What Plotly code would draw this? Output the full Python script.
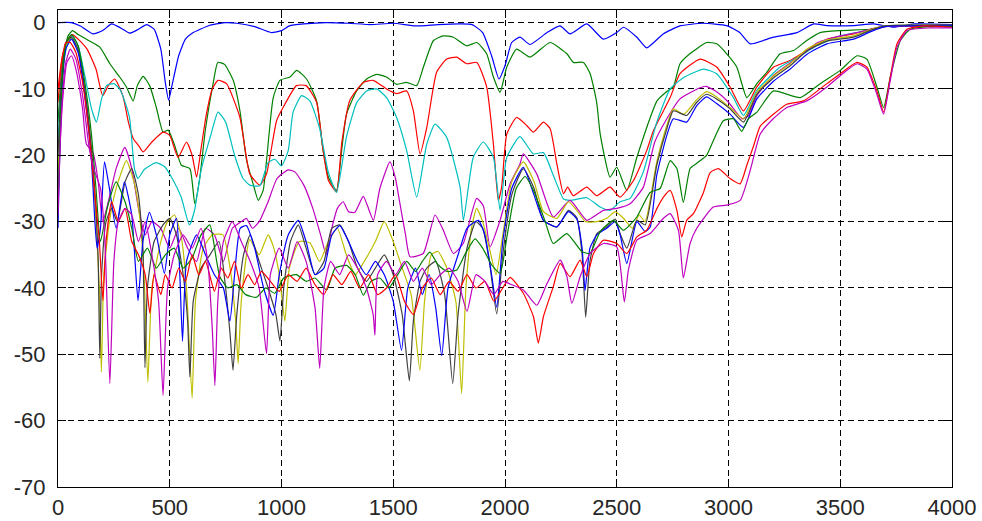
import plotly.graph_objects as go

# Frequency response magnitudes (Hz, dB) for each channel
blue_top = [(0,0),(60,0),(100,-0.5),(156,-1.7),(200,-1.2),(240,-0.2),(280,-0.8),(321,-1.6),(360,-1.0),(397,-0.3),(430,-1.0),(460,-4),(480,-9),(495,-11.7),(510,-9.5),(540,-5),(570,-2.5),(600,-1.6),(680,-0.4),(750,0),(800,-0.1),(880,-0.6),(955,-1.5),(1000,-1.2),(1035,-0.5),(1100,-0.2),(1200,0),(1300,-0.1),(1400,-0.3),(1500,-0.1),(1600,-0.5),(1700,-0.3),(1800,-0.2),(1853,-0.3),(1900,-1.5),(1940,-5),(1973,-8.5),(2000,-6.5),(2030,-3),(2067,-2.2),(2112,-3.3),(2188,-1.5),(2246,-0.5),(2291,-1.7),(2366,-0.2),(2440,-2.5),(2500,-1.5),(2530,-0.7),(2590,-2.2),(2634,-3.8),(2708,-1.7),(2783,-0.5),(2886,-0.1),(2992,-0.45),(3050,-1.5),(3097,-3.2),(3201,-2.2),(3306,-1.5),(3381,-0.2),(3440,-0.45),(3560,-0.45),(3650,-0.2),(3740,-0.7),(3830,-0.2),(4000,-0.3)]

green_upper = [(0,-15),(20,-6),(45,-2),(65,-1.2),(90,-1.8),(127,-2.5),(187,-3.7),(232,-6.2),(276,-8.2),(306,-9.7),(336,-11.8),(355,-9.5),(381,-8.1),(410,-9.5),(440,-12.8),(470,-16.5),(493,-16.2),(522,-18.5),(552,-21.5),(590,-22),(612,-27.3),(634,-23.5),(660,-16),(694,-9.2),(715,-6),(745,-6.3),(784,-8.7),(814,-13.3),(844,-20.8),(873,-24.3),(896,-26.8),(918,-25.3),(933,-20.8),(963,-11.3),(993,-8.7),(1038,-8.2),(1068,-7.2),(1112,-8.5),(1157,-11.8),(1185,-19),(1210,-23.3),(1246,-25.3),(1270,-19),(1291,-13.8),(1336,-10.3),(1381,-8.5),(1426,-7.8),(1470,-8.2),(1515,-9.3),(1560,-9),(1605,-9.5),(1635,-6.7),(1680,-2.7),(1724,-2),(1769,-2.2),(1829,-3.5),(1874,-3),(1918,-4.7),(1948,-8.2),(1978,-10.5),(2008,-6.7),(2052,-4),(2112,-5.2),(2202,-3),(2277,-4.7),(2306,-6),(2351,-6),(2381,-7.7),(2410,-12),(2426,-16.8),(2470,-23.3),(2500,-21.8),(2545,-25.3),(2590,-20.3),(2650,-14.3),(2680,-11.8),(2720,-10.5),(2753,-9.7),(2783,-6.2),(2827,-4.7),(2902,-3),(2947,-3.2),(2992,-4.7),(3037,-6.7),(3082,-11.3),(3127,-9.2),(3171,-7.5),(3231,-4.7),(3291,-4.2),(3350,-2.7),(3410,-1.5),(3500,-1.2),(3634,-1),(3700,-0.6),(4000,-0.5)]

red_upper = [(0,-12),(20,-5),(45,-2.5),(65,-1.8),(90,-2.5),(130,-4),(170,-7),(200,-11),(225,-9.5),(254,-8.5),(290,-11),(315,-15),(337,-17.5),(360,-18.5),(381,-19.5),(420,-18),(470,-16.5),(500,-17),(537,-20.3),(575,-18),(600,-20),(620,-23.3),(640,-19),(664,-13.8),(690,-10),(716,-8.7),(754,-9.2),(814,-14.3),(858,-22.8),(903,-24.5),(933,-22.8),(978,-14.8),(1007,-12.8),(1067,-9.5),(1110,-9.5),(1157,-12),(1185,-19),(1210,-23.8),(1246,-25.5),(1270,-18),(1306,-11.7),(1367,-9),(1410,-8.7),(1470,-10),(1515,-10.7),(1560,-10.3),(1590,-13.3),(1620,-19.8),(1650,-15.8),(1694,-7.5),(1739,-5.5),(1784,-5.2),(1829,-6.2),(1874,-6),(1918,-9.7),(1948,-18.3),(1970,-26.8),(1985,-24.8),(2008,-16.8),(2052,-14.3),(2097,-15.5),(2127,-16.5),(2172,-15),(2202,-16),(2232,-21.3),(2262,-25.8),(2280,-24.8),(2306,-26.1),(2366,-24.8),(2410,-26.1),(2470,-24.8),(2515,-26.3),(2575,-23.8),(2634,-19.3),(2664,-16.3),(2739,-11.3),(2783,-7.7),(2873,-5.5),(2947,-6.7),(3007,-9.7),(3067,-13.3),(3127,-9.7),(3202,-6.7),(3276,-5.7),(3350,-4.2),(3440,-2.5),(3560,-1.7),(3634,-1),(3700,-0.5),(4000,-0.5)]

cyan_upper = [(0,-18),(20,-7),(45,-2.8),(65,-2),(90,-3.5),(120,-8),(150,-13),(172,-15),(195,-11.5),(217,-9.5),(250,-9.2),(276,-10),(300,-12),(321,-14.5),(342,-22),(358,-23.5),(387,-22.1),(439,-21.1),(476,-21.7),(513,-23.6),(551,-26.3),(588,-30.5),(611,-28.3),(640,-22.3),(685,-16.8),(716,-13.5),(750,-15),(790,-20),(828,-23.5),(858,-24.5),(903,-24.6),(940,-21.1),(970,-20.6),(1000,-21.6),(1030,-19.3),(1052,-13.5),(1090,-11),(1127,-11.8),(1171,-16),(1209,-22.5),(1246,-25.6),(1291,-17.2),(1336,-12.1),(1381,-10.3),(1426,-10),(1470,-11.3),(1515,-14.3),(1560,-19.3),(1605,-26.3),(1650,-18.3),(1687,-15.3),(1739,-17.3),(1799,-24.8),(1814,-29.8),(1858,-20.3),(1903,-18),(1948,-20.3),(1978,-28.3),(2008,-20.3),(2067,-17.2),(2127,-19.8),(2172,-19.6),(2216,-23),(2262,-26.6),(2291,-26.8),(2366,-26.4),(2426,-27.8),(2470,-28.3),(2515,-27),(2560,-26.5),(2619,-22.5),(2679,-15),(2739,-10),(2798,-8.3),(2888,-7),(2947,-7.7),(3022,-11.3),(3067,-14),(3127,-10.2),(3231,-6.7),(3321,-5),(3395,-3.5),(3500,-2),(3619,-1.2),(3700,-0.5),(4000,-0.5)]

magenta_mid = [(0,-25),(20,-12),(40,-6),(60,-5),(80,-7),(110,-13),(127,-18.3),(157,-19.6),(180,-24),(200,-30),(225,-27),(260,-22),(299,-18.8),(330,-22),(360,-28),(390,-32),(420,-30),(460,-31),(500,-34),(540,-31),(580,-34),(620,-36),(660,-31),(700,-32),(740,-36),(780,-31),(820,-30),(843,-29.5),(870,-31),(900,-30),(940,-27),(980,-23.5),(1030,-22.2),(1060,-22.5),(1100,-24.5),(1140,-28),(1175,-32),(1200,-35),(1225,-31),(1250,-28),(1276,-27),(1300,-28.5),(1328,-28.6),(1366,-26.2),(1411,-29.8),(1440,-25),(1485,-21),(1510,-23.5),(1530,-27.3),(1555,-32),(1575,-35.3),(1634,-34.8),(1687,-29),(1724,-31.3),(1769,-34.8),(1813,-33.3),(1873,-26.5),(1903,-27.6),(1933,-33.8),(1978,-29.8),(2023,-24.3),(2067,-21.3),(2082,-19.8),(2142,-22.8),(2216,-29.3),(2291,-26.8),(2366,-29.8),(2440,-28.3),(2500,-28),(2560,-27.3),(2619,-24.8),(2670,-18),(2724,-14.5),(2783,-11.5),(2860,-10),(2900,-9.6),(2950,-10.5),(3000,-12),(3060,-14.5),(3090,-14),(3127,-11),(3200,-8),(3300,-5.5),(3400,-3),(3500,-2),(3620,-1.2),(3700,-0.6),(4000,-0.6)]

yellow_low = [(0,-24),(15,-10),(35,-3.5),(60,-2.3),(90,-4.2),(120,-10.5),(150,-20),(170,-30),(185,-40),(194,-52.7),(205,-38),(230,-30),(260,-25),(306,-20.8),(340,-24),(364,-28.8),(385,-38),(402,-54.2),(420,-40),(460,-33),(490,-30),(521,-29),(550,-32),(575,-40),(600,-56.6),(615,-42),(650,-34),(690,-32),(738,-32),(770,-37),(795,-45),(806,-51.4),(820,-42),(858,-32.7),(900,-35),(940,-32),(963,-33.7),(990,-38),(1015,-45),(1035,-37),(1080,-33),(1127,-33.2),(1170,-36),(1210,-33),(1250,-31),(1290,-35),(1330,-38),(1370,-36),(1420,-33),(1460,-30),(1500,-33),(1540,-37),(1580,-41),(1619,-52.4),(1640,-42),(1670,-35),(1700,-34.5),(1740,-37),(1780,-42),(1806,-55.9),(1825,-40),(1850,-31),(1873,-28),(1900,-30),(1930,-34),(1960,-38),(1990,-32),(2030,-24),(2082,-21),(2130,-24),(2172,-28.5),(2232,-29.5),(2284,-27),(2321,-28.3),(2360,-30),(2411,-30),(2455,-29.5),(2493,-28.5),(2530,-29.5),(2570,-31),(2600,-29),(2627,-30),(2679,-21),(2724,-15.5),(2753,-13),(2800,-13.8),(2858,-11.6),(2902,-10.4),(2947,-11.2),(3007,-12.8),(3067,-14.5),(3127,-10.5),(3202,-8),(3276,-6.2),(3350,-4),(3440,-2.6),(3560,-2),(3634,-1.1),(3700,-0.5),(4000,-0.4)]

black_low = [(0,-20),(15,-9),(35,-3),(60,-2.2),(90,-4),(120,-10),(150,-19),(170,-28),(180,-36),(187,-50.6),(195,-38),(215,-30),(240,-28),(265,-30),(300,-24),(330,-22),(360,-26),(380,-34),(389,-52),(400,-40),(430,-33),(470,-30.5),(500,-29.5),(530,-32),(560,-38),(580,-45),(590,-53.4),(605,-42),(640,-37),(680,-35),(720,-33),(750,-40),(770,-47),(783,-52.4),(800,-44),(830,-35),(860,-32),(900,-36),(940,-40),(975,-44),(993,-48),(1010,-40),(1040,-33),(1075,-30.5),(1110,-34),(1150,-38),(1190,-36),(1225,-31),(1261,-30.5),(1300,-33),(1340,-37),(1380,-39),(1420,-37),(1460,-35),(1500,-38),(1540,-44),(1572,-54),(1590,-45),(1620,-39),(1650,-37),(1690,-36),(1730,-41),(1766,-54.4),(1790,-44),(1830,-34),(1870,-30),(1900,-31),(1930,-36),(1963,-43.9),(1990,-35),(2030,-26),(2082,-22),(2130,-25),(2172,-29.8),(2232,-30.8),(2284,-28.3),(2321,-29.4),(2345,-35),(2361,-44.4),(2380,-36),(2411,-31.8),(2455,-30.8),(2493,-29.6),(2515,-31.8),(2545,-34),(2590,-29.8),(2627,-30.5),(2679,-21.5),(2724,-16),(2753,-13.3),(2813,-14),(2858,-12),(2902,-10.8),(2947,-11.5),(3007,-13),(3067,-15),(3127,-10.8),(3202,-8.3),(3276,-6.5),(3350,-4.3),(3440,-2.8),(3560,-2.2),(3634,-1.2),(3700,-0.5),(4000,-0.4)]

blue_low = [(0,-31),(15,-12),(35,-4),(60,-2.5),(90,-4.5),(120,-11),(150,-21),(165,-30),(175,-34),(190,-31),(208,-21),(230,-25),(260,-31),(297,-24),(330,-29),(358,-41.9),(380,-33),(409,-28.6),(440,-32),(476,-37.8),(500,-32),(530,-29.5),(545,-38),(557,-48),(575,-36),(620,-32),(660,-35),(700,-38),(740,-40),(769,-45),(790,-38),(815,-31),(843,-30.6),(880,-34),(920,-40),(963,-44.1),(990,-38),(1030,-32),(1075,-29.8),(1110,-33),(1150,-38),(1190,-37),(1225,-32),(1261,-30.6),(1300,-33),(1340,-36),(1380,-38),(1420,-36),(1460,-38),(1500,-42),(1537,-49.4),(1565,-40),(1600,-37),(1630,-41),(1660,-38),(1690,-43),(1717,-50.2),(1745,-40),(1790,-35),(1830,-31),(1881,-29.8),(1910,-32),(1940,-38),(1963,-42.9),(1990,-33),(2030,-25),(2082,-21.8),(2130,-26),(2172,-29.8),(2232,-30.8),(2284,-28.5),(2321,-29.6),(2345,-34),(2358,-40.4),(2380,-34),(2411,-32),(2455,-31),(2493,-30),(2515,-32),(2545,-36.3),(2590,-30),(2627,-31.5),(2650,-30.8),(2679,-23),(2724,-17),(2753,-14.5),(2813,-15),(2858,-12.5),(2902,-11.2),(2947,-12.2),(3007,-13.8),(3067,-15.8),(3127,-11.5),(3202,-8.8),(3276,-7),(3350,-4.8),(3440,-3.2),(3560,-2.5),(3634,-1.4),(3700,-0.6),(4000,-0.5)]

green_low = [(0,-28),(15,-11),(35,-3.2),(60,-1.8),(90,-3.5),(120,-9),(150,-17),(170,-25),(190,-33),(220,-28),(260,-24),(300,-27),(330,-31),(360,-36),(400,-34),(440,-37),(480,-35),(520,-34),(560,-37),(600,-35.5),(640,-32),(679,-30.5),(710,-36),(724,-38.3),(760,-40),(800,-39.5),(840,-41),(888,-41.4),(930,-40),(970,-40.8),(1010,-38.5),(1067,-38),(1110,-39),(1150,-38.5),(1202,-40.3),(1240,-37),(1291,-36.6),(1330,-38),(1366,-41.1),(1400,-39),(1440,-38.5),(1480,-40),(1520,-38),(1560,-36),(1600,-37.5),(1630,-36),(1664,-34.6),(1700,-36.5),(1740,-37.5),(1784,-37.3),(1820,-35),(1866,-32.6),(1900,-34),(1940,-36.5),(1978,-37.8),(2010,-32),(2050,-25),(2090,-23.2),(2130,-25.5),(2180,-30),(2216,-33.3),(2277,-31.8),(2343,-34.5),(2380,-34.8),(2426,-31.5),(2485,-29.8),(2530,-31.3),(2590,-29.3),(2649,-25.6),(2694,-25),(2739,-20.8),(2769,-22),(2798,-27.1),(2828,-22),(2858,-21.2),(2902,-20),(2932,-17.8),(2977,-14.8),(3022,-14.5),(3059,-16.4),(3089,-14.5),(3127,-13.5),(3201,-10.3),(3321,-11.3),(3410,-9.2),(3500,-7.2),(3575,-5),(3619,-5.5),(3664,-9.7),(3694,-12.8),(3724,-8.2),(3769,-2.7),(3813,-1),(3900,-0.6),(4000,-0.6)]

red_low = [(0,-10),(15,-6),(35,-3),(55,-3),(80,-4.5),(110,-9),(140,-17),(165,-26),(185,-33),(201,-41.9),(215,-33),(240,-27),(270,-30),(300,-28),(330,-33),(360,-35),(390,-38),(411,-43.8),(430,-38),(460,-41),(480,-38),(510,-40),(540,-37),(570,-39),(600,-35),(630,-38),(660,-36),(700,-40.5),(730,-37),(760,-38.5),(790,-36),(820,-40),(850,-38),(880,-39.5),(910,-37.5),(950,-39),(990,-40.5),(1030,-38),(1070,-39),(1110,-37),(1150,-39.5),(1190,-41),(1230,-38),(1270,-39.5),(1310,-37.5),(1350,-40),(1390,-38),(1430,-41),(1470,-40),(1510,-38),(1550,-42),(1590,-44),(1630,-40),(1670,-38.5),(1710,-41),(1750,-39),(1790,-40.5),(1830,-38),(1870,-40),(1910,-39),(1950,-42),(1990,-40),(2023,-38.4),(2082,-40.8),(2127,-44.3),(2149,-48.3),(2172,-44.3),(2216,-39.8),(2247,-36.3),(2291,-38.3),(2336,-35.8),(2366,-38.3),(2396,-34.8),(2440,-32.8),(2500,-33.3),(2545,-34.8),(2590,-32.3),(2634,-31.3),(2680,-28),(2709,-26.3),(2739,-25.3),(2769,-28.3),(2791,-32.3),(2813,-29.8),(2843,-28.8),(2888,-25.6),(2918,-22.6),(2955,-22),(3007,-23.5),(3052,-24.3),(3082,-21.5),(3112,-18.6),(3142,-15.6),(3187,-14.2),(3261,-12.3),(3336,-11.8),(3440,-9.2),(3500,-7.7),(3575,-6),(3619,-6.7),(3664,-10.3),(3694,-13.5),(3724,-8.2),(3754,-3.2),(3799,-1),(3873,-0.5),(4000,-0.7)]

magenta_low = [(0,-29),(15,-14),(35,-6),(55,-4),(80,-5.5),(110,-11),(140,-19),(160,-22),(190,-25),(210,-33),(232,-54.4),(250,-36),(270,-30),(300,-28),(330,-29),(360,-33),(390,-30),(420,-35),(450,-42),(470,-56.2),(490,-40),(520,-35),(560,-32),(600,-34),(640,-31),(670,-36),(690,-46),(702,-54.7),(715,-42),(740,-33),(780,-30),(820,-33),(860,-36),(900,-40),(933,-49.9),(950,-38),(990,-34),(1030,-37),(1070,-33),(1110,-36),(1150,-43),(1171,-52.1),(1190,-40),(1220,-36),(1260,-38),(1300,-35),(1340,-37),(1380,-40),(1410,-44),(1418,-47.1),(1430,-38),(1470,-36),(1510,-38),(1550,-36),(1590,-39),(1630,-37),(1670,-39.5),(1710,-38),(1750,-37),(1790,-39),(1830,-43.5),(1870,-38),(1910,-39),(1950,-41),(1990,-39),(2023,-39.4),(2082,-40.3),(2142,-42.6),(2187,-39.4),(2247,-35.8),(2277,-38.3),(2299,-42.3),(2336,-38.3),(2381,-34.8),(2440,-33.3),(2500,-33.8),(2534,-42.1),(2552,-37.3),(2590,-32.8),(2649,-31.8),(2709,-29.5),(2739,-28.8),(2776,-31.3),(2798,-38.5),(2828,-33.3),(2858,-31),(2932,-27.8),(2992,-27.5),(3052,-26.8),(3097,-22.3),(3142,-16.8),(3200,-14.5),(3261,-12.8),(3350,-11.8),(3440,-9.7),(3500,-8),(3575,-6.2),(3619,-7),(3664,-10.8),(3694,-13.8),(3724,-8.7),(3754,-3.7),(3799,-1.2),(3900,-0.8),(4000,-0.8)]

x_ticks = [0, 500, 1000, 1500, 2000, 2500, 3000, 3500, 4000]
x_tick_labels = ["0", "500", "1000", "1500", "2000", "2500", "3000", "3500", "4000"]
y_ticks = [-70, -60, -50, -40, -30, -20, -10, 0]
y_tick_labels = ["-70", "-60", "-50", "-40", "-30", "-20", "-10", "0"]

series = [
    (blue_top, "#0000ff"),
    (green_upper, "#008000"),
    (red_upper, "#ff0000"),
    (cyan_upper, "#00bfbf"),
    (magenta_mid, "#bf00bf"),
    (yellow_low, "#bfbf00"),
    (black_low, "#404040"),
    (blue_low, "#0000ff"),
    (green_low, "#008000"),
    (red_low, "#ff0000"),
    (magenta_low, "#bf00bf"),
]

fig = go.Figure()
for pts, color in series:
    xs = [p[0] for p in pts]
    ys = [p[1] for p in pts]
    fig.add_trace(go.Scatter(
        x=xs, y=ys, mode="lines",
        line=dict(color=color, width=1.2, shape="spline", smoothing=0.5),
        hoverinfo="skip", showlegend=False,
    ))

axis_common = dict(
    showline=True, linecolor="black", linewidth=1.2, mirror="ticks",
    ticks="inside", ticklen=8, tickcolor="black", tickwidth=1,
    showgrid=True, gridcolor="black", gridwidth=1, griddash="6px,4px",
    zeroline=False, automargin=False,
    tickfont=dict(family="Liberation Sans, Arial, sans-serif", size=22, color="#262626"),
)

fig.update_xaxes(range=[0, 4000], tickvals=x_ticks, ticktext=x_tick_labels,
                 ticklabelstandoff=0, **axis_common)
fig.update_yaxes(range=[-70, 1.9], tickvals=y_ticks, ticktext=y_tick_labels,
                 ticklabelstandoff=7, **axis_common)

fig.update_layout(
    width=982, height=521,
    margin=dict(l=58, r=30, t=10, b=34),
    paper_bgcolor="white", plot_bgcolor="white",
)

fig.write_html("out.html")
